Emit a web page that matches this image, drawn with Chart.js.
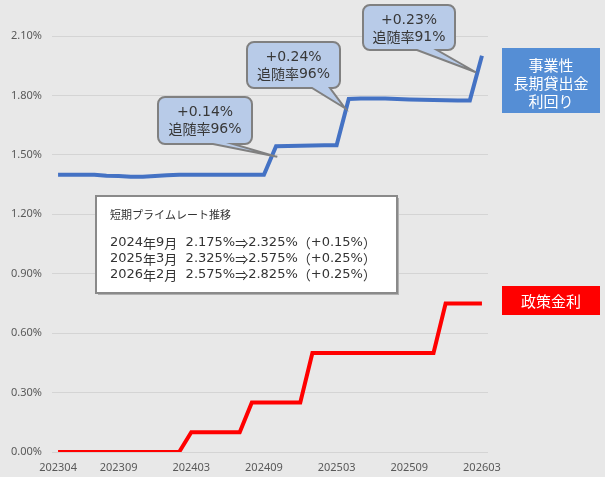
<!DOCTYPE html>
<html>
<head>
<meta charset="utf-8">
<script src="https://cdn.jsdelivr.net/npm/chart.js@4"></script>
<style>
  html, body { margin: 0; padding: 0; background: #e8e8e8; }
  #wrap { width: 605px; height: 477px; }
</style>
</head>
<body>
<div id="wrap"><canvas id="rateChart" width="605" height="477"></canvas></div>
<script>
/* [ Data ] */
const months = ['202304','202305','202306','202307','202308','202309','202310','202311','202312',
                '202401','202402','202403','202404','202405','202406','202407','202408','202409',
                '202410','202411','202412','202501','202502','202503','202504','202505','202506',
                '202507','202508','202509','202510','202511','202512','202601','202602','202603'];
const shownMonths = ['202304','202309','202403','202409','202503','202509','202603'];

// 事業性長期貸出金利回り (%)
const loanYield = [1.40, 1.40, 1.40, 1.40, 1.395, 1.393, 1.39, 1.39, 1.393,
                   1.397, 1.40, 1.40, 1.40, 1.40, 1.40, 1.40, 1.40, 1.40,
                   1.544, 1.545, 1.546, 1.547, 1.548, 1.548, 1.782, 1.784, 1.785,
                   1.784, 1.782, 1.780, 1.778, 1.777, 1.776, 1.775, 1.775, 2.00];
// 政策金利 (%)
const policyRate = [0, 0, 0, 0, 0, 0, 0, 0, 0,
                    0, 0, 0.10, 0.10, 0.10, 0.10, 0.10, 0.25, 0.25,
                    0.25, 0.25, 0.25, 0.50, 0.50, 0.50, 0.50, 0.50, 0.50,
                    0.50, 0.50, 0.50, 0.50, 0.50, 0.75, 0.75, 0.75, 0.75];

const yTicks = [0, 0.3, 0.6, 0.9, 1.2, 1.5, 1.8, 2.1];

// callouts: text, and the point on the loan line they point at (month index, %)
const calloutText = [['+0.14%', '追随率96%'], ['+0.24%', '追随率96%'], ['+0.23%', '追随率91%']];
const calloutTip = [[18.1, 1.49], [23.7, 1.735], [34.5, 1.917]];

const primeTitle = '短期プライムレート推移';
const primeLines = ['2024年9月  2.175%⇒2.325%（+0.15%）',
                    '2025年3月  2.325%⇒2.575%（+0.25%）',
                    '2026年2月  2.575%⇒2.825%（+0.25%）'];

const loanLabel = ['事業性', '長期貸出金', '利回り'];
const policyLabel = ['政策金利'];

const JP = '"Noto Sans CJK JP", sans-serif';
const LATIN = '"DejaVu Sans", sans-serif';

/* [ Drawing helpers ] */
// latin runs in DejaVu, wide characters in the CJK font
function mixedText(ctx, text, x, y, size, align) {
    var runs = [], cur = '', wide = null;
    for (var ch of text) {
        var w = ch.charCodeAt(0) > 0x2000;
        if (wide !== null && w !== wide) { runs.push([cur, wide]); cur = ''; }
        cur += ch; wide = w;
    }
    if (cur) runs.push([cur, wide]);
    var total = 0;
    runs.forEach(function (r) {
        ctx.font = size + 'px ' + (r[1] ? JP : LATIN);
        r.push(ctx.measureText(r[0]).width);
        total += r[2];
    });
    var px = align === 'center' ? x - total / 2 : x;
    ctx.textAlign = 'left';
    runs.forEach(function (r) {
        ctx.font = size + 'px ' + (r[1] ? JP : LATIN);
        ctx.fillText(r[0], px, y);
        px += r[2];
    });
}

function calloutPath(ctx, x, y, w, h, r, b1, b2, tx, ty) {
    ctx.beginPath();
    ctx.moveTo(x + r, y);
    ctx.lineTo(x + w - r, y);
    ctx.arcTo(x + w, y, x + w, y + r, r);
    ctx.lineTo(x + w, y + h - r);
    ctx.arcTo(x + w, y + h, x + w - r, y + h, r);
    ctx.lineTo(b2, y + h);
    ctx.lineTo(tx, ty);
    ctx.lineTo(b1, y + h);
    ctx.lineTo(x + r, y + h);
    ctx.arcTo(x, y + h, x, y + h - r, r);
    ctx.lineTo(x, y + r);
    ctx.arcTo(x, y, x + r, y, r);
    ctx.closePath();
}

const boxes = [
    {x: 158, y: 97, w: 94, h: 47, b1: 213, b2: 233},
    {x: 247, y: 42, w: 93, h: 46, b1: 312, b2: 330},
    {x: 363, y: 5, w: 92, h: 45, b1: 417, b2: 437}
];

const overlays = {
    id: 'overlays',
    afterDraw(chart) {
        const ctx = chart.ctx;
        const xs = chart.scales.x, ys = chart.scales.y;
        ctx.save();
        ctx.textBaseline = 'middle';

        // callouts
        boxes.forEach(function (b, i) {
            const tx = xs.getPixelForValue(calloutTip[i][0]);
            const ty = ys.getPixelForValue(calloutTip[i][1]);
            calloutPath(ctx, b.x, b.y, b.w, b.h, 7, b.b1, b.b2, tx, ty);
            ctx.fillStyle = '#b8cbe8';
            ctx.fill();
            ctx.lineWidth = 2;
            ctx.strokeStyle = '#808080';
            ctx.stroke();
            ctx.fillStyle = '#383838';
            mixedText(ctx, calloutText[i][0], b.x + b.w / 2, b.y + 15, 14, 'center');
            mixedText(ctx, calloutText[i][1], b.x + b.w / 2, b.y + 32, 14, 'center');
        });

        // prime rate note
        ctx.fillStyle = '#b0b0b0';
        ctx.fillRect(98, 198, 301, 97);
        ctx.fillStyle = '#ffffff';
        ctx.fillRect(96, 196, 301, 97);
        ctx.lineWidth = 2;
        ctx.strokeStyle = '#8a8a8a';
        ctx.strokeRect(96, 196, 301, 97);
        ctx.fillStyle = '#333333';
        ctx.textAlign = 'left';
        ctx.font = '11px ' + JP;
        ctx.fillText(primeTitle, 110, 215);
        primeLines.forEach(function (t, i) {
            mixedText(ctx, t, 110, 243 + i * 16, 13, 'left');
        });

        // series labels
        ctx.fillStyle = '#558ed5';
        ctx.fillRect(502, 48, 98, 65);
        ctx.fillStyle = '#ff0000';
        ctx.fillRect(502, 286, 98, 29);
        ctx.fillStyle = '#ffffff';
        ctx.textAlign = 'center';
        ctx.font = '15px ' + JP;
        loanLabel.forEach(function (t, i) {
            ctx.fillText(t, 551, 65 + i * 18);
        });
        ctx.fillText(policyLabel[0], 551, 301);
        ctx.restore();
    }
};

/* [ Line Chart ] */
const ctx1 = document.getElementById('rateChart').getContext('2d');
let rateChart = new Chart(ctx1, {
    type: 'line',
    data: {
        labels: months,
        datasets: [
            {
                label: loanLabel.join(''),
                data: loanYield,
                borderColor: '#4472c4',
                borderWidth: 4,
                pointRadius: 0,
                tension: 0
            },
            {
                label: policyLabel[0],
                data: policyRate,
                borderColor: '#ff0000',
                borderWidth: 4,
                pointRadius: 0,
                tension: 0
            }
        ]
    },
    options: {
        responsive: false,
        animation: false,
        layout: { padding: { top: 36, right: 117, left: 0, bottom: 0 } },
        plugins: { legend: { display: false }, tooltip: { enabled: false } },
        scales: {
            x: {
                offset: true,
                grid: { display: false },
                border: { display: false },
                afterFit: function (s) { s.height = 25; },
                ticks: {
                    autoSkip: false,
                    maxRotation: 0,
                    padding: 1,
                    color: '#595959',
                    font: { size: 11, family: '"Noto Sans", sans-serif' },
                    callback: function (v, i) {
                        const m = months[i];
                        return shownMonths.indexOf(m) > -1 ? m : '';
                    }
                }
            },
            y: {
                min: yTicks[0],
                max: yTicks[yTicks.length - 1],
                grid: { color: '#d4d4d4', lineWidth: 1, drawTicks: false },
                border: { display: false },
                afterFit: function (s) { s.width = 52; },
                afterBuildTicks: function (s) { s.ticks = yTicks.map(function (v) { return {value: v}; }); },
                ticks: {
                    padding: 10,
                    color: '#595959',
                    font: { size: 11, family: '"Noto Sans", sans-serif' },
                    callback: function (v) { return v.toFixed(2) + '%'; }
                }
            }
        }
    },
    plugins: [overlays]
});
</script>
</body>
</html>
